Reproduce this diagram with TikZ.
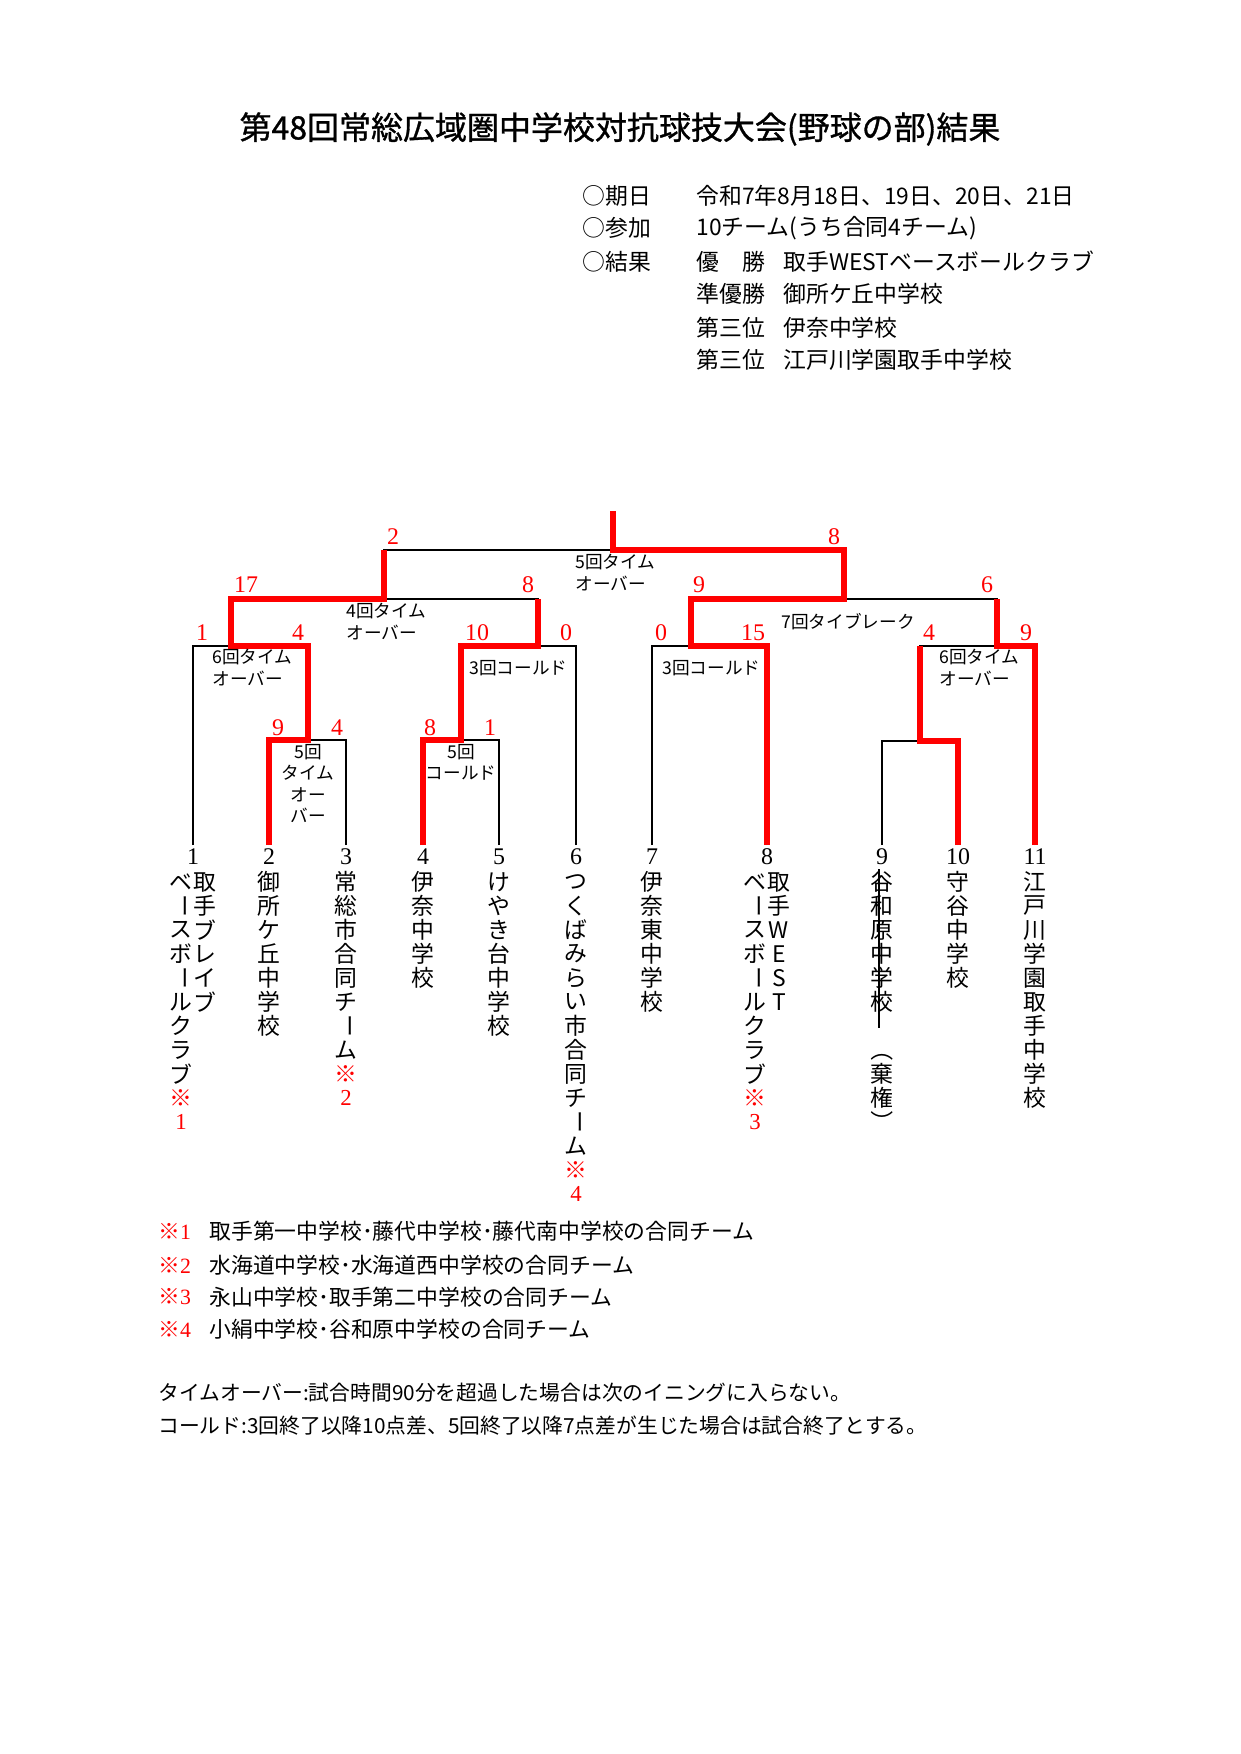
\documentclass[tikz,border=0pt]{standalone}
\usepackage{fontspec}
\setmainfont{Noto Sans CJK JP}
\newfontfamily\numfont{Liberation Serif}
\newfontfamily\titlefont[FakeBold=1]{Noto Sans CJK JP}
\definecolor{akasen}{RGB}{255,0,0}

\tikzset{
  lose/.style={line width=0.9pt, black},
  win/.style={line width=2.6pt, akasen},
  moji/.style={inner sep=0pt, font=\fontsize{11}{11}\selectfont},
  bango/.style={inner sep=0pt, font=\numfont\fontsize{11.5}{11.5}\selectfont},
  tokuten/.style={inner sep=0pt, text=akasen, font=\numfont\fontsize{11.5}{11.5}\selectfont},
  biko/.style={inner sep=0pt, align=left, font=\fontsize{8.5}{10.3}\selectfont},
  joho/.style={inner sep=0pt, anchor=west, font=\fontsize{11}{11}\selectfont},
  chu/.style={inner sep=0pt, anchor=west, font=\fontsize{10.5}{10.5}\selectfont},
  yogo/.style={inner sep=0pt, anchor=west, font=\fontsize{10}{10}\selectfont},
}

\newcommand{\tv}[1]{\rotatebox[origin=c]{-90}{#1}}
\newcommand{\aka}[1]{\textcolor{akasen}{#1}}
% one column of vertical text: name, x, y of first character, characters
\newcommand{\tateretsu}[4]{%
  \foreach \ch [count=\k from 0] in {#4}
    \node[moji] (#1-\k) at (#2, {#3+\k*24}) {\ch};%
}

\begin{document}
\begin{tikzpicture}[x=0.1692mm, y=-0.1692mm, line join=miter]
  \useasboundingbox (0,0) rectangle (1241,1754);

  % 表題
  \node[inner sep=0pt, font=\titlefont\fontsize{15.4}{15.4}\selectfont] (daimei)
    at (620,129) {第48回常総広域圏中学校対抗球技大会(野球の部)結果};

  % 概要
  \node[joho] (kijitsu) at (582,196) {○期日};
  \node[joho] (kijitsu-v) at (696,196) {令和7年8月18日、19日、20日、21日};
  \node[joho] (sanka) at (582,228) {○参加};
  \node[joho] (sanka-v) at (696,228) {10チーム(うち合同4チーム)};
  \node[joho] (kekka) at (582,262) {○結果};
  \node[joho] (yusho) at (696,262) {優　勝};
  \node[joho] (yusho-v) at (783,262) {取手WESTベースボールクラブ};
  \node[joho] (jun) at (696,294) {準優勝};
  \node[joho] (jun-v) at (783,294) {御所ケ丘中学校};
  \node[joho] (sani1) at (696,328) {第三位};
  \node[joho] (sani1-v) at (783,328) {伊奈中学校};
  \node[joho] (sani2) at (696,360) {第三位};
  \node[joho] (sani2-v) at (783,360) {江戸川学園取手中学校};

  % 組み合わせ
  \coordinate (l1) at (193,845);
  \coordinate (l2) at (269,845);
  \coordinate (l3) at (346,845);
  \coordinate (l4) at (423,845);
  \coordinate (l5) at (499,845);
  \coordinate (l6) at (576,845);
  \coordinate (l7) at (652,845);
  \coordinate (l8) at (767,845);
  \coordinate (l9) at (882,845);
  \coordinate (l10) at (958,845);
  \coordinate (l11) at (1035,845);
  \coordinate (m23) at (308,740);
  \coordinate (m45) at (461,740);
  \coordinate (m910) at (920,741);
  \coordinate (mA) at (231,646);
  \coordinate (mB) at (538,646);
  \coordinate (mC) at (691,646);
  \coordinate (mD) at (997,646);
  \coordinate (mE) at (384,599);
  \coordinate (mF) at (844,599);
  \coordinate (fin) at (613,550);
  \coordinate (top) at (613,511);

  \foreach \a/\b in {l1/mA, l2/m23, l3/m23, l4/m45, l5/m45, m23/mA,
      l6/mB, m45/mB, l7/mC, l8/mC, l9/m910, l10/m910, m910/mD, l11/mD,
      mA/mE, mB/mE, mC/mF, mD/mF, mE/fin, mF/fin}
    \draw[lose] (\a) |- (\b);
  \draw[lose] (fin) -- (top);

  % 勝ち上がり
  \draw[win] (l2) |- (m23) |- (mA) |- (mE) -- (mE |- fin);
  \draw[win] (l4) |- (m45) |- (mB) -- (mB |- mE);
  \draw[win] (l8) |- (mC) |- (mF) |- (fin) -- (top);
  \draw[win] (l10) |- (m910) -- (m910 |- mD);
  \draw[win] (l11) |- (mD) -- (mD |- mF);

  % 得点
  \node[tokuten] (s-e) at (393,537) {2};
  \node[tokuten] (s-f) at (834,537) {8};
  \node[tokuten] (s-a) at (246,585) {17};
  \node[tokuten] (s-b) at (528,585) {8};
  \node[tokuten] (s-c) at (699,585) {9};
  \node[tokuten] (s-d) at (987,585) {6};
  \node[tokuten] (s-1) at (202,633) {1};
  \node[tokuten] (s-23) at (298,633) {4};
  \node[tokuten] (s-45) at (477,633) {10};
  \node[tokuten] (s-6) at (566,633) {0};
  \node[tokuten] (s-7) at (661,633) {0};
  \node[tokuten] (s-8) at (753,633) {15};
  \node[tokuten] (s-910) at (929,633) {4};
  \node[tokuten] (s-11) at (1026,633) {9};
  \node[tokuten] (s-2) at (278,728) {9};
  \node[tokuten] (s-3) at (337,728) {4};
  \node[tokuten] (s-4) at (430,728) {8};
  \node[tokuten] (s-5) at (490,728) {1};

  % 試合の備考
  \node[biko, anchor=north west] (b-fin) at (575,554) {5回タイム\\オーバー};
  \node[biko, anchor=north west] (b-e) at (346,603) {4回タイム\\オーバー};
  \node[biko, anchor=north west] (b-a) at (212,649) {6回タイム\\オーバー};
  \node[biko, anchor=west] (b-b) at (469,668) {3回コールド};
  \node[biko, anchor=north, align=center] (b-23) at (308,744) {5回\\タイム\\オー\\バー};
  \node[biko, anchor=north, align=center] (b-45) at (461,744) {5回\\コールド};
  \node[biko, anchor=west] (b-f) at (781,622) {7回タイブレーク};
  \node[biko, anchor=west] (b-c) at (662,668) {3回コールド};
  \node[biko, anchor=north west] (b-d) at (939,649) {6回タイム\\オーバー};

  % チーム
  \foreach \n/\x in {1/193, 2/269, 3/346, 4/423, 5/499, 6/576,
      7/652, 8/767, 9/882, 10/958, 11/1035}
    \node[bango] (n\n) at (\x,857) {\n};
  \tateretsu{t1a}{205}{882}{取,手,ブ,レ,イ,ブ}
  \tateretsu{t1b}{181}{882}{ベ,{\tv{ー}},ス,ボ,{\tv{ー}},ル,ク,ラ,ブ,{\aka{※}},{\aka{\numfont 1}}}
  \tateretsu{t2}{269}{882}{御,所,ケ,丘,中,学,校}
  \tateretsu{t3}{346}{882}{常,総,市,合,同,チ,{\tv{ー}},ム,{\aka{※}},{\aka{\numfont 2}}}
  \tateretsu{t4}{423}{882}{伊,奈,中,学,校}
  \tateretsu{t5}{499}{882}{け,や,き,台,中,学,校}
  \tateretsu{t6}{576}{882}{つ,く,ば,み,ら,い,市,合,同,チ,{\tv{ー}},ム,{\aka{※}},{\aka{\numfont 4}}}
  \tateretsu{t7}{652}{882}{伊,奈,東,中,学,校}
  \tateretsu{t8a}{779}{882}{取,手,W,E,S,T}
  \tateretsu{t8b}{755}{882}{ベ,{\tv{ー}},ス,ボ,{\tv{ー}},ル,ク,ラ,ブ,{\aka{※}},{\aka{\numfont 3}}}
  \tateretsu{t9}{882}{882}{谷,和,原,中,学,校,　,{\tv{（}},棄,権,{\tv{）}}}
  \tateretsu{t10}{958}{882}{守,谷,中,学,校}
  \tateretsu{t11}{1035}{882}{江,戸,川,学,園,取,手,中,学,校}

  % 棄権
  \coordinate (kiken) at (879,0);
  \draw[line width=1.3pt] ([yshift=1pt]t9-0.north -| kiken) -- ([yshift=-2.5mm]t9-5.south -| kiken);

  % 注
  \node[chu] (chu1) at (158,1231) {\aka{※\numfont 1}};
  \node[chu] (chu1-v) at (209,1231) {取手第一中学校･藤代中学校･藤代南中学校の合同チーム};
  \node[chu] (chu2) at (158,1265) {\aka{※\numfont 2}};
  \node[chu] (chu2-v) at (209,1265) {水海道中学校･水海道西中学校の合同チーム};
  \node[chu] (chu3) at (158,1297) {\aka{※\numfont 3}};
  \node[chu] (chu3-v) at (209,1297) {永山中学校･取手第二中学校の合同チーム};
  \node[chu] (chu4) at (158,1329) {\aka{※\numfont 4}};
  \node[chu] (chu4-v) at (209,1329) {小絹中学校･谷和原中学校の合同チーム};

  \node[yogo] (yogo1) at (158,1393) {タイムオーバー:試合時間90分を超過した場合は次のイニングに入らない。};
  \node[yogo] (yogo2) at (158,1426) {コールド:3回終了以降10点差、5回終了以降7点差が生じた場合は試合終了とする。};
\end{tikzpicture}
\end{document}
